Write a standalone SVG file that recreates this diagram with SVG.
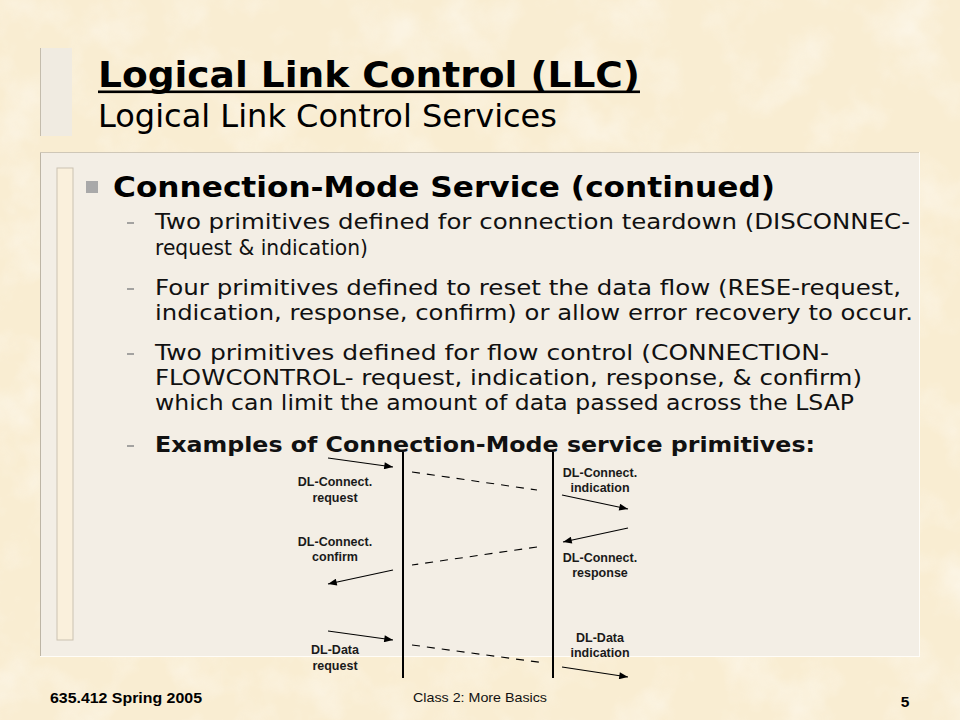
<svg xmlns="http://www.w3.org/2000/svg" width="960" height="720" viewBox="0 0 960 720">
<defs>
<filter id="paper" x="0" y="0" width="100%" height="100%">
<feTurbulence type="fractalNoise" baseFrequency="0.018" numOctaves="4" seed="7"/>
<feColorMatrix type="matrix" values="0 0 0 0 1  0 0 0 0 1  0 0 0 0 1  2.0 0 0 0 -0.9"/>
</filter>
<marker id="ah" viewBox="0 0 10 8" refX="10" refY="4" markerWidth="10" markerHeight="7" markerUnits="userSpaceOnUse" orient="auto">
<path d="M0,0 L10,4 L0,8 z" fill="#000"/>
</marker>
<style>
.title{font-family:"DejaVu Sans",Verdana,sans-serif;font-weight:bold;font-size:36px;fill:#000}
.sub{font-family:"DejaVu Sans",Verdana,sans-serif;font-size:32px;fill:#000}
.head{font-family:"DejaVu Sans",Verdana,sans-serif;font-weight:bold;font-size:28.5px;fill:#000}
.body{font-family:"DejaVu Sans",Verdana,sans-serif;font-size:21.5px;fill:#111}
.bodyb{font-family:"DejaVu Sans",Verdana,sans-serif;font-weight:bold;font-size:21.5px;fill:#111}
.dash{stroke:#8f8f8f;stroke-width:1.6}
.lbl{font-family:"Liberation Sans",Arial,sans-serif;font-weight:bold;font-size:12.5px;fill:#1a1a1a;text-anchor:middle}
.foot{font-family:"Liberation Sans",Arial,sans-serif;font-weight:bold;font-size:15.5px;fill:#000}
.footc{font-family:"Liberation Sans",Arial,sans-serif;font-size:13px;fill:#111}
.arr{stroke:#000;stroke-width:1.1;fill:none;marker-end:url(#ah)}
.dsh{stroke:#000;stroke-width:1.1;fill:none;stroke-dasharray:8 7}
.axis{stroke:#000;stroke-width:2;fill:none}
</style>
</defs>
<rect x="0" y="0" width="960" height="720" fill="#f9edd2"/>
<rect x="0" y="0" width="960" height="720" filter="url(#paper)" opacity="0.45"/>

<g id="title-bar">
<rect x="40" y="48" width="32" height="88" fill="#f0ebe1"/>
<line x1="40.5" y1="48" x2="40.5" y2="136" stroke="#c4bcac" stroke-width="1"/>
</g>

<g id="title">
<text class="title" x="98" y="87" textLength="542" lengthAdjust="spacingAndGlyphs">Logical Link Control (LLC)</text>
<rect x="98" y="90.5" width="542" height="2.6" fill="#000"/>
<text class="sub" x="98" y="127" textLength="459" lengthAdjust="spacingAndGlyphs">Logical Link Control Services</text>
</g>

<g id="panel">
<rect x="40" y="152" width="879" height="504" fill="#f3eee5"/>
<line x1="40.5" y1="152" x2="40.5" y2="656" stroke="#bdb5a5" stroke-width="1"/>
<line x1="40" y1="152.5" x2="919" y2="152.5" stroke="#cfc7b7" stroke-width="1"/>
<line x1="919.5" y1="152" x2="919.5" y2="656" stroke="#fffdf8" stroke-width="1"/>
<line x1="40" y1="656.5" x2="920" y2="656.5" stroke="#fffdf8" stroke-width="1"/>
<rect x="57" y="168" width="16" height="472" fill="#faf0dc" stroke="#cbc2b2" stroke-width="1"/>
</g>

<g id="content">
<rect x="86" y="181" width="12" height="12" fill="#a9a9a9"/>
<text class="head" x="113" y="197" textLength="662" lengthAdjust="spacingAndGlyphs">Connection-Mode Service (continued)</text>

<line class="dash" x1="127" y1="223" x2="134" y2="223"/>
<text class="body" x="155" y="229" textLength="755" lengthAdjust="spacingAndGlyphs">Two primitives defined for connection teardown (DISCONNEC-</text>
<text class="body" x="155" y="255" textLength="213" lengthAdjust="spacingAndGlyphs">request &amp; indication)</text>

<line class="dash" x1="127" y1="289" x2="134" y2="289"/>
<text class="body" x="155" y="295" textLength="746" lengthAdjust="spacingAndGlyphs">Four primitives defined to reset the data flow (RESE-request,</text>
<text class="body" x="155" y="320" textLength="758" lengthAdjust="spacingAndGlyphs">indication, response, confirm) or allow error recovery to occur.</text>

<line class="dash" x1="127" y1="354" x2="134" y2="354"/>
<text class="body" x="155" y="360" textLength="674" lengthAdjust="spacingAndGlyphs">Two primitives defined for flow control (CONNECTION-</text>
<text class="body" x="155" y="385" textLength="707" lengthAdjust="spacingAndGlyphs">FLOWCONTROL- request, indication, response, &amp; confirm)</text>
<text class="body" x="155" y="410" textLength="699" lengthAdjust="spacingAndGlyphs">which can limit the amount of data passed across the LSAP</text>

<line class="dash" x1="127" y1="446" x2="134" y2="446"/>
<text class="bodyb" x="155" y="452" textLength="660" lengthAdjust="spacingAndGlyphs">Examples of Connection-Mode service primitives:</text>
</g>

<g id="lane-left"><line class="axis" x1="403" y1="452" x2="403" y2="678"/></g>
<g id="lane-right"><line class="axis" x1="553" y1="452" x2="553" y2="678"/></g>

<g id="label-connect-request"><text class="lbl" x="335" y="486">DL-Connect.</text><text class="lbl" x="335" y="502">request</text></g>
<g id="label-connect-indication"><text class="lbl" x="600" y="477">DL-Connect.</text><text class="lbl" x="600" y="492">indication</text></g>
<g id="label-connect-confirm"><text class="lbl" x="335" y="546">DL-Connect.</text><text class="lbl" x="335" y="561">confirm</text></g>
<g id="label-connect-response"><text class="lbl" x="600" y="562">DL-Connect.</text><text class="lbl" x="600" y="577">response</text></g>
<g id="label-data-request"><text class="lbl" x="335" y="654">DL-Data</text><text class="lbl" x="335" y="670">request</text></g>
<g id="label-data-indication"><text class="lbl" x="600" y="642">DL-Data</text><text class="lbl" x="600" y="657">indication</text></g>

<g id="connectors">
<line class="arr" x1="328" y1="458" x2="393" y2="467"/>
<line class="dsh" x1="412" y1="472" x2="537" y2="490"/>
<line class="arr" x1="562" y1="495" x2="628" y2="509"/>
<line class="arr" x1="628" y1="528" x2="563" y2="542"/>
<line class="dsh" x1="537" y1="547" x2="412" y2="565"/>
<line class="arr" x1="393" y1="570" x2="328" y2="584"/>
<line class="arr" x1="328" y1="631" x2="393" y2="640"/>
<line class="dsh" x1="412" y1="645" x2="545" y2="663"/>
<line class="arr" x1="562" y1="667" x2="628" y2="677"/>
</g>

<g id="footer">
<text class="foot" x="50" y="703" textLength="152" lengthAdjust="spacingAndGlyphs">635.412 Spring 2005</text>
<text class="footc" x="413" y="702" textLength="134" lengthAdjust="spacingAndGlyphs">Class 2:  More Basics</text>
<text class="foot" x="905" y="707" text-anchor="middle" font-size="18">5</text>
</g>
</svg>
